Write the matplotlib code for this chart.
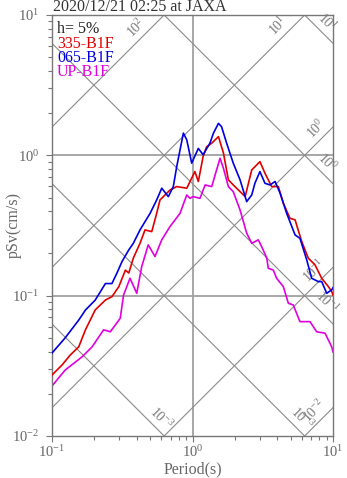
import numpy as np
import matplotlib
matplotlib.use('Agg')
import matplotlib.pyplot as plt
from matplotlib.ticker import LogLocator, NullFormatter

plt.rcParams['font.family'] = 'serif'
plt.rcParams['font.serif'] = ['Liberation Serif', 'DejaVu Serif']
plt.rcParams['mathtext.fontset'] = 'custom'
plt.rcParams['mathtext.rm'] = 'Liberation Serif'
plt.rcParams['mathtext.it'] = 'Liberation Serif:italic'

# 065-B1F (blue)
t_065 = [0.100, 0.124, 0.155, 0.173, 0.203, 0.240, 0.267, 0.290, 0.315, 0.352,
         0.379, 0.423, 0.499, 0.556, 0.604, 0.673, 0.730, 0.772, 0.861, 0.910,
         0.987, 1.10, 1.19, 1.33, 1.41, 1.53, 1.61, 1.75, 1.95, 2.18,
         2.43, 2.64, 2.78, 3.02, 3.28, 3.56, 3.87, 4.20, 4.68, 5.37,
         5.82, 6.50, 7.05, 7.86, 8.31, 9.02, 9.79, 10.0]
sv_065 = [0.039, 0.050, 0.067, 0.079, 0.093, 0.122, 0.122, 0.145, 0.175, 0.212,
          0.236, 0.294, 0.386, 0.481, 0.583, 0.508, 0.599, 0.830, 1.44, 1.29,
          0.88, 1.12, 1.01, 1.22, 1.44, 1.69, 1.60, 1.22, 0.88, 0.669,
          0.468, 0.522, 0.632, 0.766, 0.632, 0.615, 0.651, 0.538, 0.386, 0.271,
          0.256, 0.180, 0.133, 0.126, 0.126, 0.104, 0.110, 0.114]

# 335-B1F (red)
t_335 = [0.100, 0.118, 0.135, 0.155, 0.173, 0.203, 0.240, 0.267, 0.299, 0.333,
         0.352, 0.379, 0.423, 0.459, 0.513, 0.556, 0.587, 0.692, 0.772, 0.910,
         1.04, 1.10, 1.19, 1.26, 1.37, 1.53, 1.66, 1.80, 1.95, 2.37,
         2.64, 3.02, 3.28, 3.66, 4.08, 4.43, 4.94, 5.37, 5.99, 6.67,
         7.44, 8.31, 9.27, 9.79, 10.0]
sv_335 = [0.0272, 0.0321, 0.0378, 0.0432, 0.0571, 0.0791, 0.0931, 0.0984, 0.116, 0.152,
          0.145, 0.185, 0.236, 0.294, 0.286, 0.386, 0.481, 0.566, 0.599, 0.583,
          0.766, 0.651, 0.980, 1.15, 1.22, 1.36, 1.04, 0.669, 0.615, 0.508,
          0.787, 0.902, 0.745, 0.599, 0.599, 0.456, 0.356, 0.347, 0.243, 0.185,
          0.166, 0.133, 0.116, 0.107, 0.101]

# UP-B1F (magenta)
t_up = [0.100, 0.124, 0.164, 0.193, 0.233, 0.260, 0.306, 0.323, 0.359, 0.401,
        0.435, 0.484, 0.541, 0.604, 0.692, 0.815, 0.910, 0.960, 1.01, 1.13,
        1.23, 1.37, 1.57, 1.66, 1.80, 1.95, 2.18, 2.43, 2.64, 2.94,
        3.11, 3.38, 3.46, 3.76, 3.97, 4.43, 4.81, 5.21, 5.82, 6.86,
        7.65, 8.78, 9.79, 10.0]
sv_up = [0.0227, 0.0295, 0.0367, 0.0432, 0.0571, 0.0553, 0.0690, 0.101, 0.133, 0.104,
         0.161, 0.230, 0.190, 0.250, 0.311, 0.386, 0.522, 0.494, 0.508, 0.494,
         0.615, 0.599, 0.953, 0.809, 0.599, 0.551, 0.408, 0.279, 0.236, 0.250,
         0.223, 0.185, 0.157, 0.152, 0.133, 0.116, 0.0883, 0.0859, 0.0653, 0.0653,
         0.0553, 0.0540, 0.0432, 0.0397]

# tripartite guide lines: acceleration (cm/s2) and displacement (cm)
acc_lines = [1e-2, 1e-1, 1e0, 1e1, 1e2]
disp_lines = [1e-3, 1e-2, 1e-1, 1e0, 1e1]
# labels: (value, period where it sits, text)
acc_labels = [(1e2, 0.45, '$10^{2}$'), (1e1, 4.6, '$10^{1}$'), (1e0, 8.6, '$10^{0}$'),
              (1e-1, 8.3, '$10^{-1}$'), (1e-2, 8.4, '$10^{-2}$')]
disp_labels = [(1e1, 8.0, '$10^{1}$'), (1e0, 8.0, '$10^{0}$'), (1e-1, 8.0, '$10^{-1}$'),
               (1e-3, 0.53, '$10^{-3}$'), (1e-2, 5.3, '$10^{-3}$')]

W, H = 347, 478
fig = plt.figure(figsize=(W / 100, H / 100), dpi=100)
ax = fig.add_axes([52 / W, 42 / H, 281 / W, 421 / H])
ax.set_xscale('log')
ax.set_yscale('log')
ax.set_xlim(0.1, 10)
ax.set_ylim(0.01, 10)

grey = '#8a8a8a'
ax.axvline(1, color='#a0a0a0', lw=1.3, zorder=1)
ax.axhline(1, color='#a0a0a0', lw=1.3, zorder=1)
ax.axhline(0.1, color='#a0a0a0', lw=1.3, zorder=1)

tt = np.array([0.01, 100.0])
for a in acc_lines:
    ax.plot(tt, a * tt / (2 * np.pi), color=grey, lw=0.8, zorder=1)
for d in disp_lines:
    ax.plot(tt, 2 * np.pi * d / tt, color=grey, lw=0.8, zorder=1)

for a, t, s in acc_labels:
    ax.annotate(s, xy=(t, a * t / (2 * np.pi)), xytext=(-1.5, 1.5), textcoords='offset points',
                rotation=45, rotation_mode='anchor', ha='center', va='bottom',
                color='#7a7a7a', fontsize=10)
for d, t, s in disp_labels:
    ax.annotate(s, xy=(t, 2 * np.pi * d / t), xytext=(1.5, 1.5), textcoords='offset points',
                rotation=-45, rotation_mode='anchor', ha='center', va='bottom',
                color='#7a7a7a', fontsize=10)

ax.plot(t_335, sv_335, color='#e00000', lw=1.2, zorder=3)
ax.plot(t_065, sv_065, color='#0000e0', lw=1.2, zorder=4)
ax.plot(t_up, sv_up, color='#e000e0', lw=1.2, zorder=2)

for sp in ax.spines.values():
    sp.set_color('#777777')
    sp.set_linewidth(1.0)
ax.xaxis.set_minor_locator(LogLocator(subs=np.arange(2, 10)))
ax.yaxis.set_minor_locator(LogLocator(subs=np.arange(2, 10)))
ax.xaxis.set_minor_formatter(NullFormatter())
ax.yaxis.set_minor_formatter(NullFormatter())
ax.tick_params(which='major', direction='out', length=4, width=0.8, color='#777777',
               labelcolor='#666666', labelsize=10.5, pad=2)
ax.tick_params(axis='y', which='major', pad=5)
ax.tick_params(which='minor', direction='out', length=3, width=0.8, color='#777777')

# legend-like text block
fs = 11.5
fig.text(57 / W, 1 - 29 / H, 'h= 5%', color='#222222', fontsize=fs, va='center')
fig.text(57 / W, 1 - 43.5 / H, '335-B1F', color='#e00000', fontsize=fs, va='center')
fig.text(57 / W, 1 - 58 / H, '065-B1F', color='#0000e0', fontsize=fs, va='center')
fig.text(57 / W, 1 - 72.5 / H, 'UP-B1F', color='#e000e0', fontsize=fs, va='center')

fig.text(53 / W, 1 - 7 / H, '2020/12/21 02:25 at JAXA', color='#333333', fontsize=fs, va='center')
fig.text(193 / W, 1 - 469 / H, 'Period(s)', color='#666666', fontsize=fs, ha='center', va='center')
fig.text(14 / W, 1 - 225 / H, 'pSv(cm/s)', color='#666666', fontsize=fs, ha='center', va='center',
         rotation=90)

fig.savefig('out.png', dpi=100)
